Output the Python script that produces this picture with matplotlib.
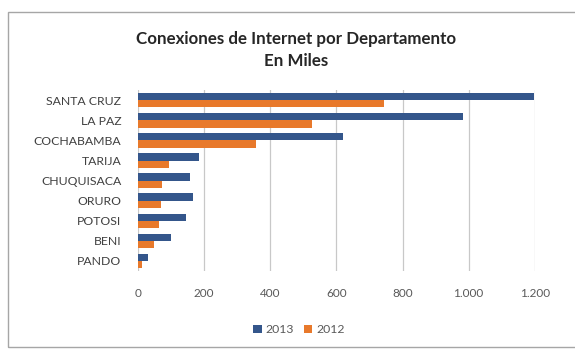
import numpy as np
import matplotlib.pyplot as plt
from matplotlib.ticker import FuncFormatter
from matplotlib.patches import Rectangle

departamentos = ['SANTA CRUZ', 'LA PAZ', 'COCHABAMBA', 'TARIJA', 'CHUQUISACA',
                 'ORURO', 'POTOSI', 'BENI', 'PANDO']
valores_2013 = [1198, 984, 621, 184, 156, 167, 144, 99, 29]
valores_2012 = [743, 525, 356, 95, 73, 70, 64, 47, 11]
ticks_x = [0, 200, 400, 600, 800, 1000, 1200]

azul = '#34568B'
naranja = '#E8792B'

plt.rcParams['font.family'] = ['Lato', 'DejaVu Sans']

fig = plt.figure(figsize=(5.75, 3.51), dpi=100)
ax = fig.add_axes([0.24, 0.228, 0.69, 0.515])

# marco del grafico
fig.patches.append(Rectangle((8 / 575, 0.01), 1.0, 1 - 12 / 351 - 0.01,
                             transform=fig.transFigure, fill=False,
                             edgecolor='#A6A6A6', linewidth=1.0))

y = np.arange(len(departamentos))
h = 0.36
ax.barh(y - h / 2, valores_2013, height=h, color=azul, label='2013', zorder=3)
ax.barh(y + h / 2, valores_2012, height=h, color=naranja, label='2012', zorder=3)

ax.set_yticks(y)
ax.set_yticklabels(departamentos, fontsize=8.8, color='#404040')
ax.set_ylim(len(departamentos) - 0.5, -0.5)
ax.set_xlim(0, 1200)
ax.set_xticks(ticks_x)
ax.xaxis.set_major_formatter(FuncFormatter(lambda v, p: f'{int(v):,}'.replace(',', '.')))
ax.tick_params(axis='x', labelsize=8.5, colors='#595959', length=0, pad=12)
ax.tick_params(axis='y', length=0, pad=12)
ax.grid(axis='x', color='#C8C8C8', linewidth=0.9, zorder=0)
for s in ax.spines.values():
    s.set_visible(False)

fig.text(0.515, 1 - 39 / 351, 'Conexiones de Internet por Departamento',
         ha='center', va='center', fontsize=12.2, fontweight='bold', color='#262626')
fig.text(0.515, 1 - 61 / 351, 'En Miles',
         ha='center', va='center', fontsize=12.2, fontweight='bold', color='#262626')

fig.legend(loc='center', bbox_to_anchor=(0.52, 0.06), ncol=2, frameon=False,
           fontsize=8.8, handlelength=0.7, handleheight=0.7, handletextpad=0.3,
           columnspacing=0.8, labelcolor='#595959')

plt.savefig('out.png', dpi=100)
